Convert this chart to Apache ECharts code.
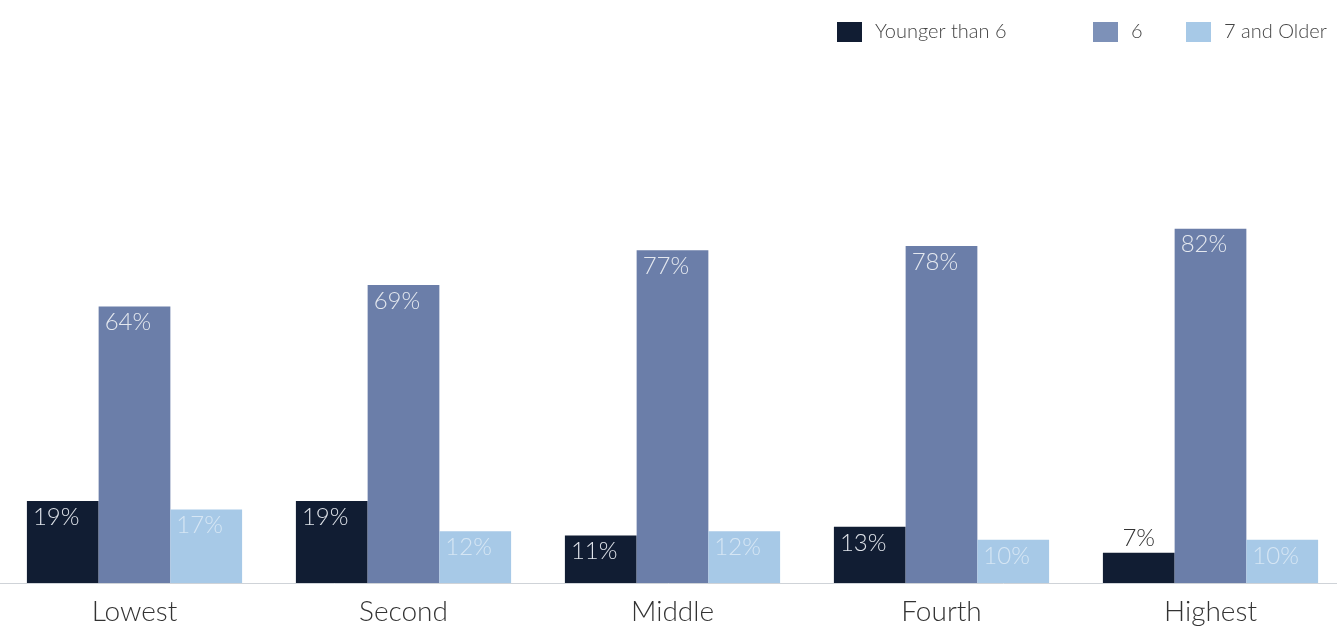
<!DOCTYPE html>
<html><head><meta charset="utf-8">
<script src="https://cdn.jsdelivr.net/npm/echarts@6/dist/echarts.min.js"></script>
<style>html,body{margin:0;padding:0;background:#fff}#c{width:1337px;height:628px}</style>
</head><body><div id="c"></div>
<script>
const categories = ['Lowest', 'Second', 'Middle', 'Fourth', 'Highest'];
const seriesNames = ['Younger than 6', '6', '7 and Older'];
const youngerThan6 = [19, 19, 11, 13, 7];
const age6 = [64, 69, 77, 78, 82];
const age7Older = [17, 12, 12, 10, 10];

const colors = ['#111d33', '#6b7ea9', '#a7c9e7'];
const legendColors = ['#111d33', '#7d91b8', '#a7c9e7'];
const labelColors = ['#dfe3ea', '#e4e8ef', '#d6e6f4'];
const legendLefts = [837, 1093, 1186];
const font = 'Lato';

function makeData(vals) {
  return vals.map(v => {
    if (v < 8) {
      return { value: v, label: { position: 'top', color: '#333', distance: 2, offset: [0, 0] } };
    }
    return v;
  });
}
const allVals = [youngerThan6, age6, age7Older];
const chart = echarts.init(document.getElementById('c'));
chart.setOption({
  animation: false,
  color: colors,
  legend: seriesNames.map((n, i) => ({
    left: legendLefts[i], top: 22, itemWidth: 25, itemHeight: 20, padding: 0,
    textStyle: { fontFamily: font, fontSize: 20, fontWeight: 300, color: '#444', padding: [0, 0, 0, 8] },
    data: [{ name: n, icon: 'rect', itemStyle: { color: legendColors[i] } }]
  })),
  grid: { left: 0, width: 1345, top: 151, bottom: 45, outerBoundsMode: 'none', containLabel: false },
  xAxis: {
    type: 'category', data: categories,
    axisLine: { lineStyle: { color: '#cfd3d8', width: 1 } },
    axisTick: { show: false },
    axisLabel: { fontFamily: font, fontSize: 28, fontWeight: 300, color: '#333', margin: 15 }
  },
  yAxis: { type: 'value', min: 0, max: 100, show: false, splitLine: { show: false } },
  series: seriesNames.map((n, i) => ({
    name: n, type: 'bar', barGap: '0%', barCategoryGap: '20%',
    data: makeData(allVals[i]),
    label: {
      show: true, position: 'insideTopLeft', distance: 6, offset: [0, -2],
      formatter: '{c}%', fontFamily: font, fontSize: 24, fontWeight: 300,
      color: labelColors[i]
    }
  }))
});
</script></body></html>
